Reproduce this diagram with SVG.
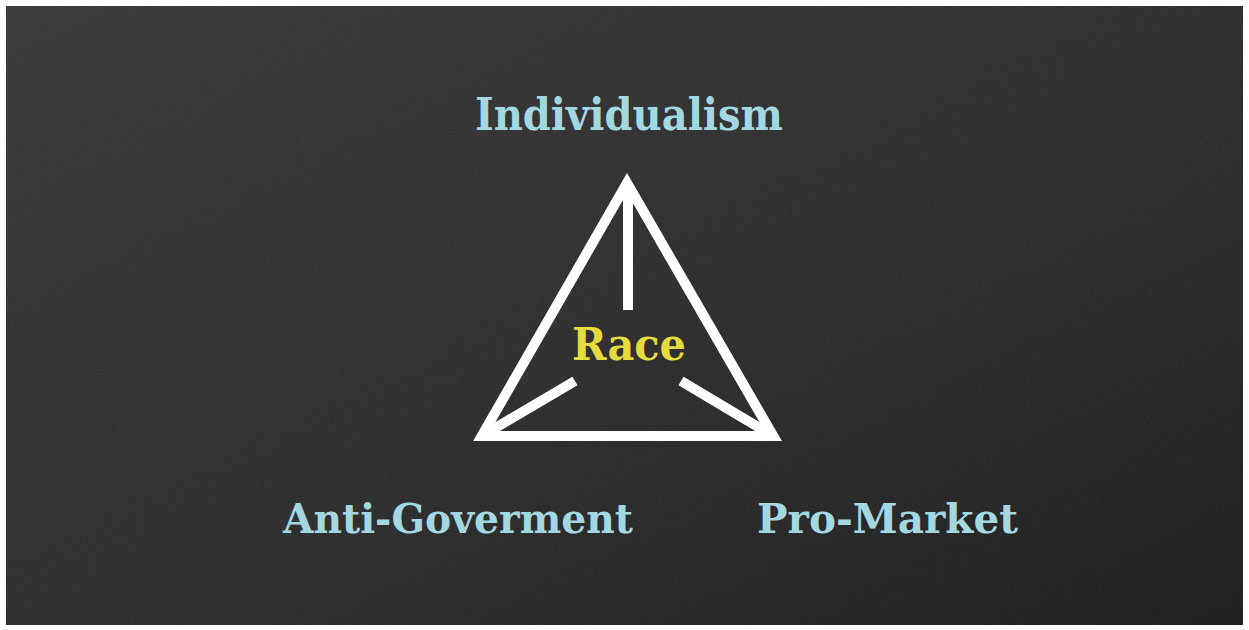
<svg xmlns="http://www.w3.org/2000/svg" width="1249" height="630" viewBox="0 0 1249 630">
  <defs>
    <linearGradient id="board" x1="0" y1="0" x2="1" y2="1">
      <stop offset="0" stop-color="#363638"/>
      <stop offset="0.5" stop-color="#2b2b2c"/>
      <stop offset="1" stop-color="#1a1a1b"/>
    </linearGradient>
    <filter id="grain" x="0" y="0" width="100%" height="100%">
      <feTurbulence type="fractalNoise" baseFrequency="0.9" numOctaves="2" seed="3" result="n"/>
      <feColorMatrix type="saturate" values="0"/>
      <feComponentTransfer>
        <feFuncA type="table" tableValues="0 0.1"/>
      </feComponentTransfer>
    </filter>
    <style>
      .lbl { font-family: "DejaVu Serif", "Liberation Serif", serif; font-weight: bold; text-anchor: middle; }
      .blue { fill: #a4d8e1; }
      .yellow { fill: #e4dc3c; }
      .chalk { stroke: #ffffff; stroke-width: 10; fill: none; }
    </style>
  </defs>
  <rect x="0" y="0" width="1249" height="630" fill="#ffffff"/>
  <rect x="6" y="6" width="1237" height="619" fill="url(#board)"/>
  <rect x="6" y="6" width="1237" height="619" filter="url(#grain)" fill="#ffffff"/>

  <g id="connectors">
    <polygon class="chalk" points="627,183 773.3,436 481.7,436" stroke-linejoin="miter"/>
    <line class="chalk" x1="628" y1="183" x2="628" y2="310"/>
    <line class="chalk" x1="481.7" y1="436" x2="575" y2="381"/>
    <line class="chalk" x1="773.3" y1="436" x2="681" y2="381"/>
  </g>

  <g id="node-individualism">
    <text class="lbl blue" x="629" y="130" font-size="44" textLength="308" lengthAdjust="spacingAndGlyphs">Individualism</text>
  </g>
  <g id="node-race">
    <text class="lbl yellow" x="629" y="360" font-size="44" textLength="114" lengthAdjust="spacingAndGlyphs">Race</text>
  </g>
  <g id="node-anti-goverment">
    <text class="lbl blue" x="458" y="533" font-size="41" textLength="350" lengthAdjust="spacingAndGlyphs">Anti-Goverment</text>
  </g>
  <g id="node-pro-market">
    <text class="lbl blue" x="887.5" y="533" font-size="41" textLength="261" lengthAdjust="spacingAndGlyphs">Pro-Market</text>
  </g>
</svg>
